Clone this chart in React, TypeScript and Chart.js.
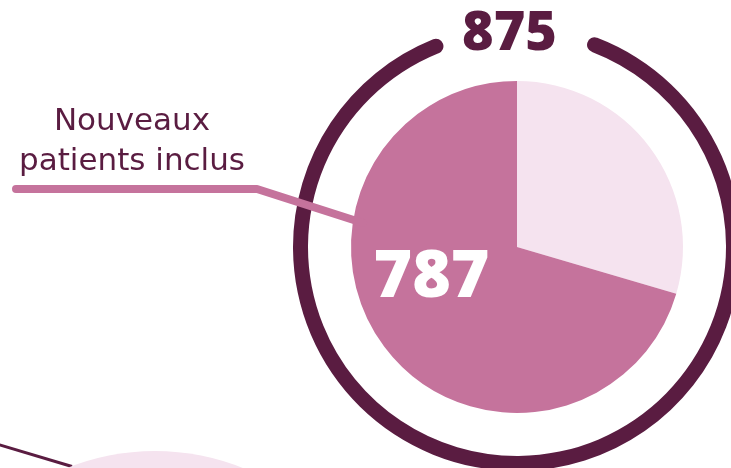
import React, { useEffect, useRef } from "react";
import { Chart, registerables } from "chart.js";

Chart.register(...registerables);

// ---- data ----
const sliceLabels = ["Autres patients", "Nouveaux patients inclus"];
const sliceValues = [330, 787];
const totalValue = 875;
const includedValue = 787;
const ringValues = [321, 39]; // degrees of ring drawn / gap at top
const calloutLines = ["Nouveaux", "patients inclus"];

// ---- styles ----
const DARK = "#5a1c41";
const PINK = "#c5739c";
const LIGHT = "#f5e3ef";
const NUM_FONT = "'Open Sans', 'Noto Sans', sans-serif";
const LABEL_FONT = "'DejaVu Sans', 'Noto Sans', sans-serif";

const decorPlugin = {
  id: "decor",
  beforeDatasetsDraw(chart: any) {
    const ctx = chart.ctx;
    ctx.save();
    // partial figure bottom-left
    ctx.strokeStyle = DARK;
    ctx.lineWidth = 3;
    ctx.beginPath();
    ctx.moveTo(-5, 443.5);
    ctx.lineTo(72, 466.5);
    ctx.stroke();
    ctx.fillStyle = LIGHT;
    ctx.beginPath();
    ctx.arc(155, 687, 236, 0, Math.PI * 2);
    ctx.fill();
    ctx.restore();
  },
  afterDatasetsDraw(chart: any) {
    const ctx = chart.ctx;
    const pieMeta = chart.getDatasetMeta(2);
    const arc = pieMeta.data[0];
    const cx = arc.x;
    const cy = arc.y;
    const r = arc.outerRadius;
    ctx.save();
    // callout leader line
    ctx.strokeStyle = PINK;
    ctx.lineWidth = 8;
    ctx.lineCap = "round";
    ctx.lineJoin = "round";
    ctx.beginPath();
    ctx.moveTo(16, 189);
    ctx.lineTo(257, 189);
    ctx.lineTo(cx - r + 12, cy - 24);
    ctx.stroke();
    // callout text
    ctx.fillStyle = DARK;
    ctx.textAlign = "center";
    ctx.textBaseline = "alphabetic";
    ctx.font = `400 31px ${LABEL_FONT}`;
    ctx.fillText(calloutLines[0], 132, 130);
    ctx.fillText(calloutLines[1], 132, 170);
    // total on top
    ctx.font = `800 54px ${NUM_FONT}`;
    ctx.fillStyle = DARK;
    ctx.fillText(String(totalValue), cx - 7.5, 50);
    // included value
    ctx.font = `800 66px ${NUM_FONT}`;
    ctx.fillStyle = "#ffffff";
    ctx.fillText(String(includedValue), cx - 85.5, cy + 50);
    ctx.restore();
  },
};

export default function App() {
  const ref = useRef<HTMLCanvasElement | null>(null);
  useEffect(() => {
    document.body.style.margin = "0";
    const canvas = ref.current;
    if (!canvas) return;
    const chart = new Chart(canvas, {
      type: "doughnut",
      data: {
        labels: sliceLabels,
        datasets: [
          {
            label: "ring",
            data: ringValues,
            backgroundColor: [DARK, "rgba(0,0,0,0)"],
            borderWidth: 0,
            borderRadius: [8, 0] as any,
            rotation: 19,
            weight: 15,
          } as any,
          {
            label: "spacer",
            data: [1],
            backgroundColor: ["rgba(0,0,0,0)"],
            borderWidth: 0,
            weight: 43,
          } as any,
          {
            label: "patients",
            data: sliceValues,
            backgroundColor: [LIGHT, PINK],
            borderWidth: 0,
            weight: 166,
          } as any,
        ],
      },
      options: {
        responsive: false,
        animation: false,
        events: [],
        cutout: 0,
        layout: { padding: { left: 293, top: 23, right: 0, bottom: 0 } },
        plugins: {
          legend: { display: false },
          tooltip: { enabled: false },
        },
      } as any,
      plugins: [decorPlugin],
    });
    return () => chart.destroy();
  }, []);
  return (
    <div style={{ position: "relative", width: 731, height: 468, overflow: "hidden", background: "#fff" }}>
      <canvas ref={ref} width={741} height={471} style={{ display: "block" }} />
    </div>
  );
}
